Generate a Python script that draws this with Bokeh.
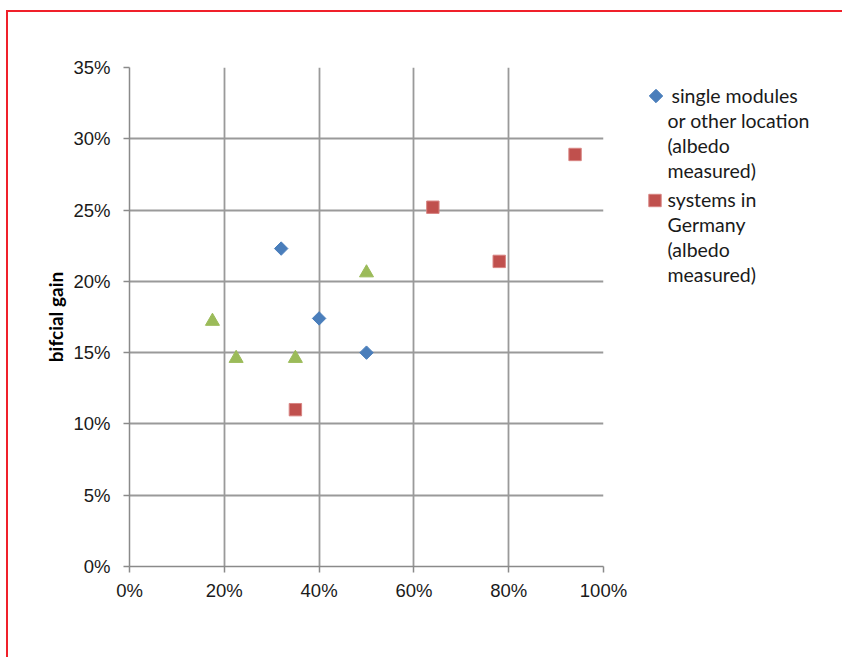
import math
from bokeh.plotting import figure
from bokeh.layouts import row
from bokeh.models import NumeralTickFormatter, FixedTicker, Range1d
from bokeh.core.properties import value
from bokeh.embed import file_html
from bokeh.resources import INLINE

# data (fractions)
single_x = [0.32, 0.40, 0.50]
single_y = [0.223, 0.174, 0.150]
germany_x = [0.35, 0.64, 0.78, 0.94]
germany_y = [0.110, 0.252, 0.214, 0.289]
other_x = [0.175, 0.225, 0.35, 0.50]
other_y = [0.172, 0.146, 0.146, 0.206]
x_ticks = [0, 0.2, 0.4, 0.6, 0.8, 1.0]
y_ticks = [0, 0.05, 0.10, 0.15, 0.20, 0.25, 0.30, 0.35]
legend_lines = [
    ["single modules", "or other location", "(albedo", "measured)"],
    ["systems  in", "Germany", "(albedo", "measured)"],
]

FONT = "Lato"
TICK_FONT = "Liberation Sans"
BLUE, RED, GREEN = "#4a7ebb", "#c0504d", "#9bbb59"
FRAME_L, FRAME_T, FRAME_W, FRAME_H = 129, 67, 474, 499
CANVAS_X0, CANVAS_Y0 = 8, 12
SPLIT_X = 640
H = 657 - CANVAS_Y0
W1 = SPLIT_X - CANVAS_X0
W2 = 842 - SPLIT_X
BORDER_T = FRAME_T - CANVAS_Y0
BORDER_B = H - BORDER_T - FRAME_H

p = figure(width=W1, height=H, output_backend="svg", toolbar_location=None,
           x_range=Range1d(0, 1), y_range=Range1d(0, 0.35))
p.min_border_left = FRAME_L - CANVAS_X0
p.min_border_right = W1 - (FRAME_L - CANVAS_X0) - FRAME_W
p.min_border_top = BORDER_T
p.min_border_bottom = BORDER_B

p.outline_line_color = None
for ax in (p.xaxis, p.yaxis):
    ax.formatter = NumeralTickFormatter(format="0%")
    ax.axis_line_color = "#8a8a8a"
    ax.axis_line_width = 1.5
    ax.major_tick_line_color = "#8a8a8a"
    ax.major_tick_line_width = 1.5
    ax.major_tick_out = 6
    ax.major_tick_in = 0
    ax.minor_tick_line_color = None
    ax.major_label_text_font = TICK_FONT
    ax.major_label_text_font_size = "18.5px"
    ax.major_label_text_color = "#1a1a1a"
p.xaxis.ticker = FixedTicker(ticks=x_ticks)
p.yaxis.ticker = FixedTicker(ticks=y_ticks)
p.xaxis.major_label_standoff = 7
p.yaxis.major_label_standoff = 13
p.yaxis.axis_label = "bifcial gain"
p.yaxis.axis_label_text_font = FONT
p.yaxis.axis_label_text_font_style = "bold"
p.yaxis.axis_label_text_font_size = "19px"
p.yaxis.axis_label_text_color = "#000000"
p.yaxis.axis_label_standoff = 3

p.xgrid.ticker = FixedTicker(ticks=x_ticks)
p.ygrid.ticker = FixedTicker(ticks=y_ticks)
for g in (p.xgrid, p.ygrid):
    g.grid_line_color = "#9a9a9a"
    g.grid_line_width = 1.8

DIAMOND_SIZE, SQUARE_SIZE, TRI_SIZE = 9.5, 12.4, 14
p.scatter(single_x, single_y, marker="square", angle=math.pi / 4, size=DIAMOND_SIZE,
          fill_color=BLUE, line_color=BLUE, line_width=1)
p.scatter(germany_x, germany_y, marker="square", size=SQUARE_SIZE, fill_color=RED,
          line_color="#d88583", line_width=1)
p.scatter(other_x, other_y, marker="triangle", size=TRI_SIZE, fill_color=GREEN,
          line_color=GREEN, line_width=1)

# legend panel: a bare figure whose data units are page pixels (y downward);
# its frame is aligned with the main frame by the row layout
lf = figure(width=W2, height=H, output_backend="svg", toolbar_location=None,
            x_range=Range1d(SPLIT_X, 842), y_range=Range1d(FRAME_T + FRAME_H, FRAME_T),
            x_axis_location=None, y_axis_location=None)
lf.min_border_left = 0
lf.min_border_right = 0
lf.min_border_top = BORDER_T
lf.min_border_bottom = BORDER_B
lf.grid.visible = False
lf.outline_line_color = None

lf.scatter([655.5], [95.5], marker="square", angle=math.pi / 4, size=DIAMOND_SIZE,
           fill_color=BLUE, line_color=BLUE, line_width=1)
lf.scatter([654.5], [200], marker="square", size=SQUARE_SIZE, fill_color=RED,
           line_color="#d88583", line_width=1)

line_y = [[94.5, 119.5, 144.5, 169.5], [199, 224, 249, 274]]
line_x = [[671, 667, 667, 667], [667, 667, 667, 667]]
tx, ty, tt = [], [], []
for block, xs, ys in zip(legend_lines, line_x, line_y):
    for txt, sx, sy in zip(block, xs, ys):
        tx.append(sx)
        ty.append(sy)
        tt.append(txt)
lf.text(x=tx, y=ty, text=tt, text_font=value(FONT), text_font_size="19.5px",
        text_color="#1a1a1a", text_baseline="middle", text_align="left")

layout = row(p, lf)
layout.styles = {"margin-left": "6px", "margin-top": "10px",
                 "border-left": "2px solid #f0202a", "border-top": "2px solid #f0202a"}

open("out.html", "w").write(file_html(layout, INLINE))
